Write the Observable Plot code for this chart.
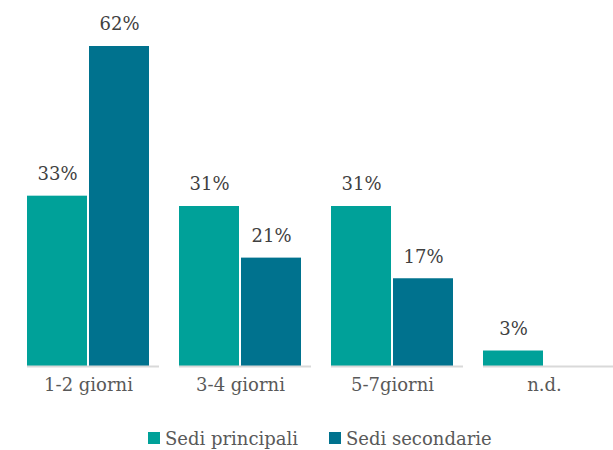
<!DOCTYPE html>
<html>
<head>
<meta charset="utf-8">
<script src="https://cdn.jsdelivr.net/npm/d3@7"></script>
<script src="https://cdn.jsdelivr.net/npm/@observablehq/plot@0.6"></script>
<style>
  html, body { margin: 0; padding: 0; background: #fff; }
  #chart { width: 613px; }
  .legend { height: 56px; position: relative;
            font-family: "DejaVu Serif", "DejaVu Sans", serif; font-size: 18px; color: #595959; }
  .item { display: flex; align-items: center; position: absolute; top: 18px; height: 20px; }
  .sw { width: 12px; height: 12px; margin-right: 5px; display: inline-block; }
</style>
</head>
<body>
<div id="chart"></div>
<script>
const categories = ["1-2 giorni", "3-4 giorni", "5-7giorni", "n.d."];
const series = ["Sedi principali", "Sedi secondarie"];
const principali = [33, 31, 31, 3];
const secondarie = [62, 21, 17, null];
const colors = ["#00a199", "#00728e"];

const data = [];
categories.forEach((c, i) => {
  if (principali[i] != null) data.push({cat: c, s: series[0], v: principali[i]});
  if (secondarie[i] != null) data.push({cat: c, s: series[1], v: secondarie[i]});
});

const font = "DejaVu Serif, DejaVu Sans, serif";
const plot = Plot.plot({
  width: 613,
  height: 410,
  marginLeft: 10,
  marginRight: 0,
  marginTop: 0,
  marginBottom: 44,
  style: {fontFamily: font, fontSize: "18px", color: "#595959", background: "#fff"},
  fx: {domain: categories, range: [11, 621], paddingInner: 0.2, paddingOuter: 0.1, label: null,
       tickSize: 0, tickPadding: 12},
  x: {domain: series, paddingInner: 0.033, paddingOuter: 0, axis: null},
  y: {domain: [0, 62], range: [366, 46], axis: null},
  color: {domain: series, range: colors},
  marks: [
    Plot.barY(data, {fx: "cat", x: "s", y: "v", fill: "s"}),
    Plot.text(data, {fx: "cat", x: "s", y: "v", text: d => d.v + "%", dy: -22,
                     fill: "#404040", fontSize: 18, fontFamily: font}),
    Plot.ruleY([0], {stroke: "#d9d9d9", strokeWidth: 2, facetAnchor: null, insetRight: -10})
  ]
});
plot.querySelectorAll("text").forEach(t => t.setAttribute("font-family", font));
document.getElementById("chart").appendChild(plot);

const legend = document.createElement("div");
legend.className = "legend";
series.forEach((s, i) => {
  const item = document.createElement("div");
  item.className = "item";
  item.style.left = (i === 0 ? 148 : 329) + "px";
  const sw = document.createElement("span");
  sw.className = "sw";
  sw.style.background = colors[i];
  item.appendChild(sw);
  const t = document.createElement("span");
  t.textContent = s;
  item.appendChild(t);
  legend.appendChild(item);
});
document.getElementById("chart").appendChild(legend);
</script>
</body>
</html>
